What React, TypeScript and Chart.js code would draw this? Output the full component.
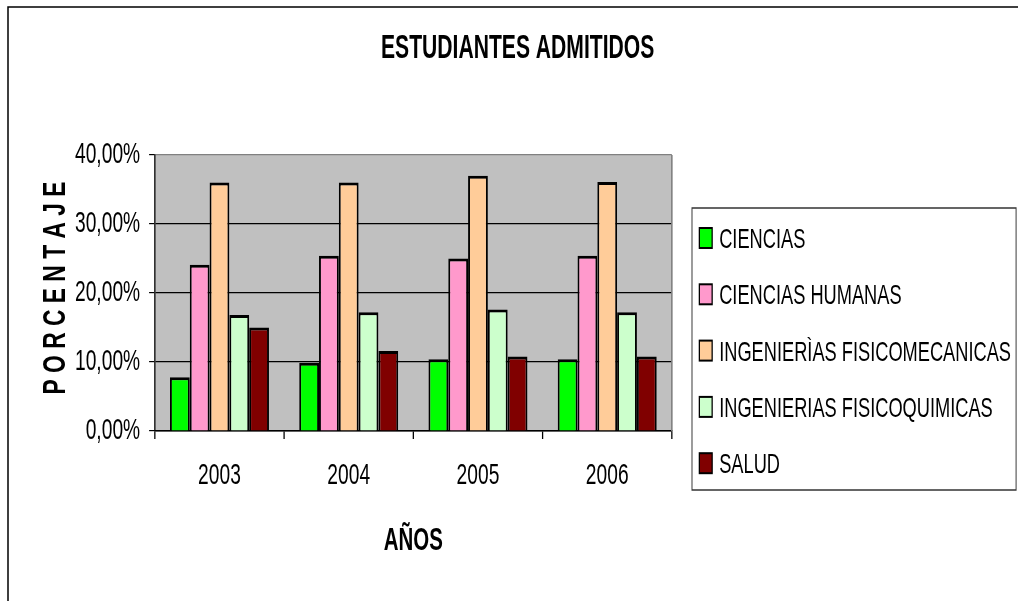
import React, { useEffect, useRef } from 'react';
import { Chart, registerables } from 'chart.js';

Chart.register(...registerables);

// ---- data ----
const categories = ['2003', '2004', '2005', '2006'];
const ciencias = [7.8, 9.9, 10.4, 10.4];
const cienciasHumanas = [24.1, 25.4, 25.0, 25.4];
const ingFisicomecanicas = [36.0, 36.0, 37.0, 36.1];
const ingFisicoquimicas = [16.8, 17.2, 17.6, 17.2];
const salud = [15.0, 11.6, 10.8, 10.8];
const seriesNames = [
  'CIENCIAS',
  'CIENCIAS HUMANAS',
  'INGENIERÌAS FISICOMECANICAS',
  'INGENIERIAS FISICOQUIMICAS',
  'SALUD',
];
const seriesColors = ['#00FF00', '#FF99CC', '#FFCC99', '#CCFFCC', '#800000'];
const yTicks = [0, 10, 20, 30, 40];
const chartTitle = 'ESTUDIANTES ADMITIDOS';
const xTitle = 'AÑOS';
const yTitle = 'P O R C E N T A J E';

// ---- layout ----
const CW = 1591;
const CH = 601;
const SX = 1018 / CW;
const FONT = "'Liberation Sans', Arial, sans-serif";

const excelLook = {
  id: 'excelLook',
  beforeDraw(chart: any) {
    const ctx = chart.ctx;
    ctx.save();
    ctx.fillStyle = '#fff';
    ctx.fillRect(0, 0, CW, CH);
    ctx.scale(SX, 1);
    const a = chart.chartArea;
    ctx.fillStyle = '#C0C0C0';
    ctx.fillRect(a.left, a.top, a.right - a.left, a.bottom - a.top);
  },
  beforeDatasetsDraw(chart: any) {
    const ctx = chart.ctx;
    const a = chart.chartArea;
    ctx.save();
    ctx.strokeStyle = '#808080';
    ctx.lineWidth = 2.5;
    ctx.beginPath();
    ctx.moveTo(a.right, a.top);
    ctx.lineTo(a.right, a.bottom);
    ctx.stroke();
    ctx.restore();
  },
  afterDraw(chart: any) {
    const ctx = chart.ctx;
    const a = chart.chartArea;
    ctx.fillStyle = '#000';
    ctx.textAlign = 'center';
    ctx.textBaseline = 'alphabetic';
    ctx.font = `bold 33px ${FONT}`;
    ctx.fillText(chartTitle, 809, 58);
    ctx.font = `bold 32px ${FONT}`;
    ctx.fillText(xTitle, (a.left + a.right) / 2, 550);

    // legend
    const lx = 1081.5;
    const ly = 208;
    const lw = 1588 - lx;
    const lh = 282;
    ctx.strokeStyle = '#333';
    ctx.lineWidth = 1.5;
    ctx.strokeRect(lx, ly, lw, lh);
    ctx.font = `28.5px ${FONT}`;
    ctx.textAlign = 'left';
    chart.data.datasets.forEach((ds: any, i: number) => {
      const cy = 238 + i * 56.3;
      ctx.fillStyle = ds.backgroundColor;
      ctx.fillRect(1093, cy - 10, 20, 20);
      ctx.strokeStyle = '#000';
      ctx.lineWidth = 2;
      ctx.strokeRect(1093, cy - 10, 20, 20);
      ctx.fillStyle = '#000';
      ctx.fillText(ds.label, 1124, cy + 10);
    });
    ctx.restore();

    // screen-space items
    ctx.save();
    ctx.strokeStyle = '#000';
    ctx.lineWidth = 1.5;
    ctx.beginPath();
    ctx.moveTo(8, CH + 5);
    ctx.lineTo(8, 7);
    ctx.lineTo(1030, 7);
    ctx.stroke();

    ctx.translate(53, 288);
    ctx.rotate(-Math.PI / 2);
    ctx.font = `bold 22px ${FONT}`;
    const w = ctx.measureText(yTitle).width;
    const capH = 0.716 * 22;
    ctx.scale(213 / w, 23 / capH);
    ctx.fillStyle = '#000';
    ctx.textAlign = 'center';
    ctx.textBaseline = 'alphabetic';
    ctx.fillText(yTitle, 0, capH / 2);
    ctx.restore();
  },
};

export default function App() {
  const ref = useRef<HTMLCanvasElement | null>(null);

  useEffect(() => {
    if (!ref.current) return;
    const values = [ciencias, cienciasHumanas, ingFisicomecanicas, ingFisicoquimicas, salud];
    const chart = new Chart(ref.current, {
      type: 'bar',
      data: {
        labels: categories,
        datasets: values.map((d, i) => ({
          label: seriesNames[i],
          data: d,
          backgroundColor: seriesColors[i],
          borderColor: '#000',
          borderWidth: 3,
          borderSkipped: 'start',
          inflateAmount: 0,
          categoryPercentage: 0.766,
          barPercentage: 1,
        })),
      },
      options: {
        responsive: false,
        animation: false,
        devicePixelRatio: 1,
        layout: { padding: { left: 92, top: 155, right: 541, bottom: 110 } },
        plugins: {
          legend: { display: false },
          tooltip: { enabled: false },
          title: { display: false },
        },
        scales: {
          x: {
            grid: {
              offset: true,
              drawOnChartArea: false,
              drawTicks: true,
              tickLength: 8,
              color: '#000',
              lineWidth: 2,
            },
            border: { color: '#000', width: 1.5 },
            ticks: {
              font: { family: FONT, size: 30 },
              color: '#000',
              padding: 19,
              maxRotation: 0,
            },
            afterFit(s: any) {
              s.height = 60;
            },
          },
          y: {
            min: 0,
            max: 40,
            afterBuildTicks(s: any) {
              s.ticks = yTicks.map((v) => ({ value: v }));
            },
            ticks: {
              callback: (v: any) => Number(v).toFixed(2).replace('.', ',') + '%',
              font: { family: FONT, size: 30 },
              color: '#000',
              padding: 14,
            },
            grid: {
              color: (c: any) => (c.tick && c.tick.value === 40 ? '#808080' : '#000'),
              tickColor: '#000',
              tickLength: 9,
              lineWidth: 1.2,
            },
            border: { color: '#000', width: 2 },
            afterFit(s: any) {
              s.width = 150;
            },
          },
        },
      },
      plugins: [excelLook],
    });
    return () => chart.destroy();
  }, []);

  return (
    <div
      style={{
        position: 'fixed',
        left: 0,
        top: 0,
        width: 1018,
        height: 601,
        overflow: 'hidden',
        background: '#fff',
      }}
    >
      <canvas ref={ref} width={CW} height={CH} style={{ display: 'block' }} />
    </div>
  );
}
